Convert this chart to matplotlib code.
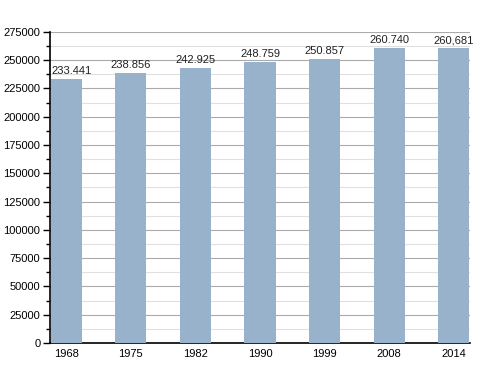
import matplotlib
matplotlib.use('Agg')
import matplotlib.pyplot as plt
from matplotlib.ticker import MultipleLocator

plt.rcParams['font.family'] = ['Liberation Sans', 'DejaVu Sans']
plt.rcParams['font.size'] = 8

years = ['1968', '1975', '1982', '1990', '1999', '2008', '2014']
population = [233441, 238856, 242925, 248759, 250857, 260740, 260681]
labels = ['233.441', '238.856', '242.925', '248.759', '250.857', '260.740', '260,681']

fig = plt.figure(figsize=(5, 3.73), dpi=100)
ax = fig.add_axes((0.1, 0.0804, 0.84, 0.834))

xs = range(len(years))
ax.bar(xs, population, width=0.48, color='#98b2cb', zorder=3)
for x, v, lab in zip(xs, population, labels):
    # first label is nudged right so it doesn't cross the y axis
    ax.text(x + (0.08 if x == 0 else 0), v + 2500, lab, ha='center', va='bottom',
            fontsize=8, color='#222222')

ax.set_xlim(-0.25, 6.25)
ax.set_ylim(0, 275000)
ax.yaxis.set_major_locator(MultipleLocator(25000))
ax.yaxis.set_minor_locator(MultipleLocator(12500))
ax.grid(axis='y', which='major', color='#aaaaaa', linewidth=0.8, zorder=0)
ax.grid(axis='y', which='minor', color='#e0e0e0', linewidth=0.8, zorder=0)
ax.set_xticks(list(xs))
ax.set_xticklabels(years)
ax.tick_params(axis='x', length=0, pad=4)
ax.tick_params(axis='y', which='major', length=5, width=1, pad=2)
ax.tick_params(axis='y', which='minor', length=3, width=1)

for s in ['top', 'right']:
    ax.spines[s].set_visible(False)
ax.spines['left'].set_linewidth(1.2)
ax.spines['bottom'].set_linewidth(1.2)

fig.savefig('out.png', dpi=100)
